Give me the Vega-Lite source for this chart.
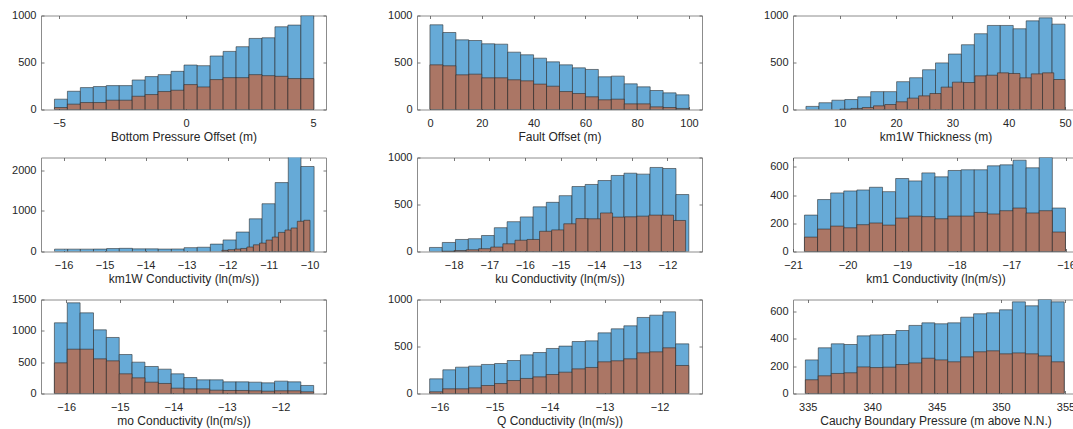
{
"$schema": "https://vega.github.io/schema/vega-lite/v6.json",
"padding": {"left": 11, "top": 8.5, "right": -4.5, "bottom": 0.5},
"locale": {"number": {"decimal": ".", "thousands": "", "grouping": [3], "currency": ["$", ""], "minus": "-"}},
"columns": 3,
"spacing": {"row": 48, "column": 91},
"bounds": "flush",
"config": {
 "font": "Liberation Sans",
 "numberFormat": "d",
 "view": {"stroke": "#8c8c8c", "strokeWidth": 1},
 "axis": {"domain": false, "grid": false, "ticks": true, "tickSize": -3, "tickColor": "#555555", "tickWidth": 0.8, "labelFont": "Liberation Sans", "labelFontSize": 11, "labelColor": "#262626", "titleFont": "Liberation Sans", "titleFontSize": 12, "titleFontWeight": "normal", "titleColor": "#262626", "labelOverlap": false, "labelFlush": false},
 "axisX": {"labelPadding": 11, "titlePadding": 3},
 "axisY": {"labelPadding": 8}
},
"datasets": {
 "p1": [
  {"s":"a","x":-5.18,"x2":-4.67,"y":110},{"s":"a","x":-4.67,"x2":-4.16,"y":194},{"s":"a","x":-4.16,"x2":-3.65,"y":233},{"s":"a","x":-3.65,"x2":-3.14,"y":244},{"s":"a","x":-3.14,"x2":-2.63,"y":254},{"s":"a","x":-2.63,"x2":-2.12,"y":254},{"s":"a","x":-2.12,"x2":-1.61,"y":314},{"s":"a","x":-1.61,"x2":-1.10,"y":350},{"s":"a","x":-1.10,"x2":-0.59,"y":371},{"s":"a","x":-0.59,"x2":-0.08,"y":406},{"s":"a","x":-0.08,"x2":0.44,"y":473},{"s":"a","x":0.44,"x2":0.95,"y":466},{"s":"a","x":0.95,"x2":1.46,"y":569},{"s":"a","x":1.46,"x2":1.97,"y":618},{"s":"a","x":1.97,"x2":2.48,"y":668},{"s":"a","x":2.48,"x2":2.99,"y":756},{"s":"a","x":2.99,"x2":3.50,"y":763},{"s":"a","x":3.50,"x2":4.01,"y":880},{"s":"a","x":4.01,"x2":4.52,"y":898},{"s":"a","x":4.52,"x2":5.03,"y":998},
  {"s":"b","x":-5.18,"x2":-4.67,"y":21},{"s":"b","x":-4.67,"x2":-4.16,"y":57},{"s":"b","x":-4.16,"x2":-3.65,"y":74},{"s":"b","x":-3.65,"x2":-3.14,"y":74},{"s":"b","x":-3.14,"x2":-2.63,"y":99},{"s":"b","x":-2.63,"x2":-2.12,"y":99},{"s":"b","x":-2.12,"x2":-1.61,"y":141},{"s":"b","x":-1.61,"x2":-1.10,"y":159},{"s":"b","x":-1.10,"x2":-0.59,"y":191},{"s":"b","x":-0.59,"x2":-0.08,"y":205},{"s":"b","x":-0.08,"x2":0.44,"y":265},{"s":"b","x":0.44,"x2":0.95,"y":240},{"s":"b","x":0.95,"x2":1.46,"y":318},{"s":"b","x":1.46,"x2":1.97,"y":339},{"s":"b","x":1.97,"x2":2.48,"y":339},{"s":"b","x":2.48,"x2":2.99,"y":371},{"s":"b","x":2.99,"x2":3.50,"y":360},{"s":"b","x":3.50,"x2":4.01,"y":353},{"s":"b","x":4.01,"x2":4.52,"y":329},{"s":"b","x":4.52,"x2":5.03,"y":329}
 ],
 "p2": [
  {"s":"a","x":0,"x2":5,"y":901},{"s":"a","x":5,"x2":10,"y":819},{"s":"a","x":10,"x2":15,"y":741},{"s":"a","x":15,"x2":20,"y":734},{"s":"a","x":20,"x2":25,"y":699},{"s":"a","x":25,"x2":30,"y":695},{"s":"a","x":30,"x2":35,"y":610},{"s":"a","x":35,"x2":40,"y":582},{"s":"a","x":40,"x2":45,"y":546},{"s":"a","x":45,"x2":50,"y":507},{"s":"a","x":50,"x2":55,"y":475},{"s":"a","x":55,"x2":60,"y":443},{"s":"a","x":60,"x2":65,"y":426},{"s":"a","x":65,"x2":70,"y":348},{"s":"a","x":70,"x2":75,"y":355},{"s":"a","x":75,"x2":80,"y":273},{"s":"a","x":80,"x2":85,"y":241},{"s":"a","x":85,"x2":90,"y":202},{"s":"a","x":90,"x2":95,"y":177},{"s":"a","x":95,"x2":100,"y":156},
  {"s":"b","x":0,"x2":5,"y":475},{"s":"b","x":5,"x2":10,"y":465},{"s":"b","x":10,"x2":15,"y":369},{"s":"b","x":15,"x2":20,"y":376},{"s":"b","x":20,"x2":25,"y":337},{"s":"b","x":25,"x2":30,"y":337},{"s":"b","x":30,"x2":35,"y":316},{"s":"b","x":35,"x2":40,"y":305},{"s":"b","x":40,"x2":45,"y":270},{"s":"b","x":45,"x2":50,"y":248},{"s":"b","x":50,"x2":55,"y":191},{"s":"b","x":55,"x2":60,"y":170},{"s":"b","x":60,"x2":65,"y":135},{"s":"b","x":65,"x2":70,"y":103},{"s":"b","x":70,"x2":75,"y":110},{"s":"b","x":75,"x2":80,"y":60},{"s":"b","x":80,"x2":85,"y":60},{"s":"b","x":85,"x2":90,"y":28},{"s":"b","x":90,"x2":95,"y":21},{"s":"b","x":95,"x2":100,"y":11}
 ],
 "p3": [
  {"s":"a","x":4.0,"x2":6.3,"y":33},{"s":"a","x":6.3,"x2":8.6,"y":72},{"s":"a","x":8.6,"x2":10.9,"y":99},{"s":"a","x":10.9,"x2":13.2,"y":106},{"s":"a","x":13.2,"x2":15.5,"y":135},{"s":"a","x":15.5,"x2":17.8,"y":190},{"s":"a","x":17.8,"x2":20.1,"y":190},{"s":"a","x":20.1,"x2":22.4,"y":296},{"s":"a","x":22.4,"x2":24.7,"y":338},{"s":"a","x":24.7,"x2":27.0,"y":423},{"s":"a","x":27.0,"x2":29.3,"y":496},{"s":"a","x":29.3,"x2":31.6,"y":590},{"s":"a","x":31.6,"x2":33.9,"y":689},{"s":"a","x":33.9,"x2":36.2,"y":806},{"s":"a","x":36.2,"x2":38.5,"y":894},{"s":"a","x":38.5,"x2":40.8,"y":894},{"s":"a","x":40.8,"x2":43.1,"y":859},{"s":"a","x":43.1,"x2":45.4,"y":943},{"s":"a","x":45.4,"x2":47.7,"y":975},{"s":"a","x":47.7,"x2":50.0,"y":908},
  {"s":"b","x":10,"x2":12,"y":4},{"s":"b","x":12,"x2":14,"y":11},{"s":"b","x":14,"x2":16,"y":21},{"s":"b","x":16,"x2":18,"y":39},{"s":"b","x":18,"x2":20,"y":53},{"s":"b","x":20,"x2":22,"y":82},{"s":"b","x":22,"x2":24,"y":121},{"s":"b","x":24,"x2":26,"y":145},{"s":"b","x":26,"x2":28,"y":170},{"s":"b","x":28,"x2":30,"y":238},{"s":"b","x":30,"x2":32,"y":291},{"s":"b","x":32,"x2":34,"y":287},{"s":"b","x":34,"x2":36,"y":358},{"s":"b","x":36,"x2":38,"y":365},{"s":"b","x":38,"x2":40,"y":390},{"s":"b","x":40,"x2":42,"y":383},{"s":"b","x":42,"x2":44,"y":337},{"s":"b","x":44,"x2":46,"y":379},{"s":"b","x":46,"x2":48,"y":390},{"s":"b","x":48,"x2":50,"y":319}
 ],
 "p4": [
  {"s":"a","x":-16.22,"x2":-15.90,"y":58},{"s":"a","x":-15.90,"x2":-15.59,"y":58},{"s":"a","x":-15.59,"x2":-15.27,"y":58},{"s":"a","x":-15.27,"x2":-14.95,"y":60},{"s":"a","x":-14.95,"x2":-14.64,"y":72},{"s":"a","x":-14.64,"x2":-14.32,"y":78},{"s":"a","x":-14.32,"x2":-14.00,"y":65},{"s":"a","x":-14.00,"x2":-13.69,"y":65},{"s":"a","x":-13.69,"x2":-13.37,"y":60},{"s":"a","x":-13.37,"x2":-13.06,"y":62},{"s":"a","x":-13.06,"x2":-12.74,"y":95},{"s":"a","x":-12.74,"x2":-12.42,"y":105},{"s":"a","x":-12.42,"x2":-12.11,"y":182},{"s":"a","x":-12.11,"x2":-11.79,"y":285},{"s":"a","x":-11.79,"x2":-11.47,"y":479},{"s":"a","x":-11.47,"x2":-11.16,"y":805},{"s":"a","x":-11.16,"x2":-10.84,"y":1176},{"s":"a","x":-10.84,"x2":-10.52,"y":1697},{"s":"a","x":-10.52,"x2":-10.21,"y":2350},{"s":"a","x":-10.21,"x2":-9.89,"y":2093},
  {"s":"b","x":-12.14,"x2":-11.99,"y":28},{"s":"b","x":-11.99,"x2":-11.83,"y":45},{"s":"b","x":-11.83,"x2":-11.68,"y":60},{"s":"b","x":-11.68,"x2":-11.53,"y":75},{"s":"b","x":-11.53,"x2":-11.37,"y":110},{"s":"b","x":-11.37,"x2":-11.22,"y":165},{"s":"b","x":-11.22,"x2":-11.06,"y":207},{"s":"b","x":-11.06,"x2":-10.91,"y":281},{"s":"b","x":-10.91,"x2":-10.76,"y":355},{"s":"b","x":-10.76,"x2":-10.60,"y":471},{"s":"b","x":-10.60,"x2":-10.45,"y":529},{"s":"b","x":-10.45,"x2":-10.30,"y":579},{"s":"b","x":-10.30,"x2":-10.14,"y":744},{"s":"b","x":-10.14,"x2":-9.99,"y":769}
 ],
 "p5": [
  {"s":"a","x":-18.68,"x2":-18.32,"y":43},{"s":"a","x":-18.32,"x2":-17.95,"y":96},{"s":"a","x":-17.95,"x2":-17.59,"y":128},{"s":"a","x":-17.59,"x2":-17.22,"y":136},{"s":"a","x":-17.22,"x2":-16.86,"y":170},{"s":"a","x":-16.86,"x2":-16.50,"y":253},{"s":"a","x":-16.50,"x2":-16.13,"y":317},{"s":"a","x":-16.13,"x2":-15.77,"y":368},{"s":"a","x":-15.77,"x2":-15.40,"y":475},{"s":"a","x":-15.40,"x2":-15.04,"y":523},{"s":"a","x":-15.04,"x2":-14.68,"y":594},{"s":"a","x":-14.68,"x2":-14.31,"y":691},{"s":"a","x":-14.31,"x2":-13.95,"y":713},{"s":"a","x":-13.95,"x2":-13.58,"y":755},{"s":"a","x":-13.58,"x2":-13.22,"y":809},{"s":"a","x":-13.22,"x2":-12.86,"y":833},{"s":"a","x":-12.86,"x2":-12.49,"y":823},{"s":"a","x":-12.49,"x2":-12.13,"y":894},{"s":"a","x":-12.13,"x2":-11.76,"y":883},{"s":"a","x":-11.76,"x2":-11.40,"y":606},
  {"s":"b","x":-18.33,"x2":-17.99,"y":3},{"s":"b","x":-17.99,"x2":-17.65,"y":10},{"s":"b","x":-17.65,"x2":-17.30,"y":18},{"s":"b","x":-17.30,"x2":-16.96,"y":30},{"s":"b","x":-16.96,"x2":-16.62,"y":47},{"s":"b","x":-16.62,"x2":-16.28,"y":82},{"s":"b","x":-16.28,"x2":-15.94,"y":120},{"s":"b","x":-15.94,"x2":-15.59,"y":128},{"s":"b","x":-15.59,"x2":-15.25,"y":215},{"s":"b","x":-15.25,"x2":-14.91,"y":230},{"s":"b","x":-14.91,"x2":-14.57,"y":295},{"s":"b","x":-14.57,"x2":-14.23,"y":350},{"s":"b","x":-14.23,"x2":-13.88,"y":348},{"s":"b","x":-13.88,"x2":-13.54,"y":410},{"s":"b","x":-13.54,"x2":-13.20,"y":366},{"s":"b","x":-13.20,"x2":-12.86,"y":369},{"s":"b","x":-12.86,"x2":-12.52,"y":376},{"s":"b","x":-12.52,"x2":-12.17,"y":387},{"s":"b","x":-12.17,"x2":-11.83,"y":387},{"s":"b","x":-11.83,"x2":-11.49,"y":330}
 ],
 "p6": [
  {"s":"a","x":-20.79,"x2":-20.55,"y":258},{"s":"a","x":-20.55,"x2":-20.31,"y":368},{"s":"a","x":-20.31,"x2":-20.07,"y":415},{"s":"a","x":-20.07,"x2":-19.83,"y":429},{"s":"a","x":-19.83,"x2":-19.60,"y":436},{"s":"a","x":-19.60,"x2":-19.36,"y":455},{"s":"a","x":-19.36,"x2":-19.12,"y":424},{"s":"a","x":-19.12,"x2":-18.88,"y":517},{"s":"a","x":-18.88,"x2":-18.64,"y":500},{"s":"a","x":-18.64,"x2":-18.40,"y":557},{"s":"a","x":-18.40,"x2":-18.16,"y":529},{"s":"a","x":-18.16,"x2":-17.92,"y":574},{"s":"a","x":-17.92,"x2":-17.68,"y":579},{"s":"a","x":-17.68,"x2":-17.44,"y":579},{"s":"a","x":-17.44,"x2":-17.21,"y":607},{"s":"a","x":-17.21,"x2":-16.97,"y":614},{"s":"a","x":-16.97,"x2":-16.73,"y":647},{"s":"a","x":-16.73,"x2":-16.49,"y":593},{"s":"a","x":-16.49,"x2":-16.25,"y":666},{"s":"a","x":-16.25,"x2":-16.01,"y":308},
  {"s":"b","x":-20.79,"x2":-20.55,"y":102},{"s":"b","x":-20.55,"x2":-20.31,"y":159},{"s":"b","x":-20.31,"x2":-20.07,"y":180},{"s":"b","x":-20.07,"x2":-19.83,"y":168},{"s":"b","x":-19.83,"x2":-19.60,"y":190},{"s":"b","x":-19.60,"x2":-19.36,"y":202},{"s":"b","x":-19.36,"x2":-19.12,"y":187},{"s":"b","x":-19.12,"x2":-18.88,"y":237},{"s":"b","x":-18.88,"x2":-18.64,"y":251},{"s":"b","x":-18.64,"x2":-18.40,"y":247},{"s":"b","x":-18.40,"x2":-18.16,"y":232},{"s":"b","x":-18.16,"x2":-17.92,"y":251},{"s":"b","x":-17.92,"x2":-17.68,"y":251},{"s":"b","x":-17.68,"x2":-17.44,"y":277},{"s":"b","x":-17.44,"x2":-17.21,"y":266},{"s":"b","x":-17.21,"x2":-16.97,"y":289},{"s":"b","x":-16.97,"x2":-16.73,"y":308},{"s":"b","x":-16.73,"x2":-16.49,"y":273},{"s":"b","x":-16.49,"x2":-16.25,"y":289},{"s":"b","x":-16.25,"x2":-16.01,"y":138}
 ],
 "p7": [
  {"s":"a","x":-16.22,"x2":-15.98,"y":1128},{"s":"a","x":-15.98,"x2":-15.74,"y":1447},{"s":"a","x":-15.74,"x2":-15.49,"y":1287},{"s":"a","x":-15.49,"x2":-15.25,"y":1016},{"s":"a","x":-15.25,"x2":-15.01,"y":894},{"s":"a","x":-15.01,"x2":-14.77,"y":622},{"s":"a","x":-14.77,"x2":-14.53,"y":500},{"s":"a","x":-14.53,"x2":-14.28,"y":431},{"s":"a","x":-14.28,"x2":-14.04,"y":388},{"s":"a","x":-14.04,"x2":-13.80,"y":314},{"s":"a","x":-13.80,"x2":-13.56,"y":255},{"s":"a","x":-13.56,"x2":-13.32,"y":218},{"s":"a","x":-13.32,"x2":-13.07,"y":218},{"s":"a","x":-13.07,"x2":-12.83,"y":186},{"s":"a","x":-12.83,"x2":-12.59,"y":186},{"s":"a","x":-12.59,"x2":-12.35,"y":181},{"s":"a","x":-12.35,"x2":-12.11,"y":170},{"s":"a","x":-12.11,"x2":-11.86,"y":197},{"s":"a","x":-11.86,"x2":-11.62,"y":186},{"s":"a","x":-11.62,"x2":-11.38,"y":128},
  {"s":"b","x":-16.22,"x2":-15.98,"y":489},{"s":"b","x":-15.98,"x2":-15.74,"y":707},{"s":"b","x":-15.74,"x2":-15.49,"y":707},{"s":"b","x":-15.49,"x2":-15.25,"y":553},{"s":"b","x":-15.25,"x2":-15.01,"y":521},{"s":"b","x":-15.01,"x2":-14.77,"y":314},{"s":"b","x":-14.77,"x2":-14.53,"y":250},{"s":"b","x":-14.53,"x2":-14.28,"y":181},{"s":"b","x":-14.28,"x2":-14.04,"y":160},{"s":"b","x":-14.04,"x2":-13.80,"y":85},{"s":"b","x":-13.80,"x2":-13.56,"y":74},{"s":"b","x":-13.56,"x2":-13.32,"y":74},{"s":"b","x":-13.32,"x2":-13.07,"y":53},{"s":"b","x":-13.07,"x2":-12.83,"y":48},{"s":"b","x":-12.83,"x2":-12.59,"y":48},{"s":"b","x":-12.59,"x2":-12.35,"y":43},{"s":"b","x":-12.35,"x2":-12.11,"y":37},{"s":"b","x":-12.11,"x2":-11.86,"y":43},{"s":"b","x":-11.86,"x2":-11.62,"y":43},{"s":"b","x":-11.62,"x2":-11.38,"y":27}
 ],
 "p8": [
  {"s":"a","x":-16.18,"x2":-15.94,"y":156},{"s":"a","x":-15.94,"x2":-15.71,"y":252},{"s":"a","x":-15.71,"x2":-15.47,"y":280},{"s":"a","x":-15.47,"x2":-15.24,"y":291},{"s":"a","x":-15.24,"x2":-15.00,"y":309},{"s":"a","x":-15.00,"x2":-14.77,"y":319},{"s":"a","x":-14.77,"x2":-14.53,"y":351},{"s":"a","x":-14.53,"x2":-14.30,"y":411},{"s":"a","x":-14.30,"x2":-14.06,"y":436},{"s":"a","x":-14.06,"x2":-13.83,"y":479},{"s":"a","x":-13.83,"x2":-13.59,"y":504},{"s":"a","x":-13.59,"x2":-13.35,"y":553},{"s":"a","x":-13.35,"x2":-13.12,"y":560},{"s":"a","x":-13.12,"x2":-12.88,"y":645},{"s":"a","x":-12.88,"x2":-12.65,"y":688},{"s":"a","x":-12.65,"x2":-12.41,"y":720},{"s":"a","x":-12.41,"x2":-12.18,"y":809},{"s":"a","x":-12.18,"x2":-11.94,"y":833},{"s":"a","x":-11.94,"x2":-11.71,"y":869},{"s":"a","x":-11.71,"x2":-11.47,"y":528},
  {"s":"b","x":-16.18,"x2":-15.94,"y":18},{"s":"b","x":-15.94,"x2":-15.71,"y":50},{"s":"b","x":-15.71,"x2":-15.47,"y":50},{"s":"b","x":-15.47,"x2":-15.24,"y":60},{"s":"b","x":-15.24,"x2":-15.00,"y":85},{"s":"b","x":-15.00,"x2":-14.77,"y":106},{"s":"b","x":-14.77,"x2":-14.53,"y":138},{"s":"b","x":-14.53,"x2":-14.30,"y":160},{"s":"b","x":-14.30,"x2":-14.06,"y":177},{"s":"b","x":-14.06,"x2":-13.83,"y":202},{"s":"b","x":-13.83,"x2":-13.59,"y":227},{"s":"b","x":-13.59,"x2":-13.35,"y":262},{"s":"b","x":-13.35,"x2":-13.12,"y":277},{"s":"b","x":-13.12,"x2":-12.88,"y":337},{"s":"b","x":-12.88,"x2":-12.65,"y":348},{"s":"b","x":-12.65,"x2":-12.41,"y":369},{"s":"b","x":-12.41,"x2":-12.18,"y":433},{"s":"b","x":-12.18,"x2":-11.94,"y":443},{"s":"b","x":-11.94,"x2":-11.71,"y":486},{"s":"b","x":-11.71,"x2":-11.47,"y":298}
 ],
 "p9": [
  {"s":"a","x":334.82,"x2":335.82,"y":245},{"s":"a","x":335.82,"x2":336.83,"y":333},{"s":"a","x":336.83,"x2":337.83,"y":362},{"s":"a","x":337.83,"x2":338.84,"y":357},{"s":"a","x":338.84,"x2":339.84,"y":420},{"s":"a","x":339.84,"x2":340.84,"y":427},{"s":"a","x":340.84,"x2":341.85,"y":430},{"s":"a","x":341.85,"x2":342.85,"y":459},{"s":"a","x":342.85,"x2":343.86,"y":496},{"s":"a","x":343.86,"x2":344.86,"y":515},{"s":"a","x":344.86,"x2":345.86,"y":508},{"s":"a","x":345.86,"x2":346.87,"y":515},{"s":"a","x":346.87,"x2":347.87,"y":556},{"s":"a","x":347.87,"x2":348.88,"y":581},{"s":"a","x":348.88,"x2":349.88,"y":588},{"s":"a","x":349.88,"x2":350.88,"y":610},{"s":"a","x":350.88,"x2":351.89,"y":668},{"s":"a","x":351.89,"x2":352.89,"y":639},{"s":"a","x":352.89,"x2":353.90,"y":685},{"s":"a","x":353.90,"x2":354.90,"y":668},
  {"s":"b","x":334.82,"x2":335.82,"y":100},{"s":"b","x":335.82,"x2":336.83,"y":129},{"s":"b","x":336.83,"x2":337.83,"y":146},{"s":"b","x":337.83,"x2":338.84,"y":151},{"s":"b","x":338.84,"x2":339.84,"y":194},{"s":"b","x":339.84,"x2":340.84,"y":189},{"s":"b","x":340.84,"x2":341.85,"y":192},{"s":"b","x":341.85,"x2":342.85,"y":211},{"s":"b","x":342.85,"x2":343.86,"y":223},{"s":"b","x":343.86,"x2":344.86,"y":257},{"s":"b","x":344.86,"x2":345.86,"y":245},{"s":"b","x":345.86,"x2":346.87,"y":231},{"s":"b","x":346.87,"x2":347.87,"y":267},{"s":"b","x":347.87,"x2":348.88,"y":304},{"s":"b","x":348.88,"x2":349.88,"y":311},{"s":"b","x":349.88,"x2":350.88,"y":289},{"s":"b","x":350.88,"x2":351.89,"y":296},{"s":"b","x":351.89,"x2":352.89,"y":289},{"s":"b","x":352.89,"x2":353.90,"y":274},{"s":"b","x":353.90,"x2":354.90,"y":231}
 ]
},
"concat": [
 {"width": 285, "height": 94, "data": {"name": "p1"},
  "layer": [
   {"mark": {"type": "rect", "clip": true, "stroke": "#262626", "strokeWidth": 0.7, "strokeOpacity": 0.8},
    "encoding": {
     "x": {"field": "x", "type": "quantitative", "scale": {"domain": [-5.71, 5.51], "nice": false, "zero": false}, "axis": {"values": [-5, 0, 5], "title": "Bottom Pressure Offset (m)"}},
     "x2": {"field": "x2"},
     "y": {"field": "y", "type": "quantitative", "stack": null, "scale": {"domain": [0, 1000], "nice": false, "zero": false}, "axis": {"values": [0, 500, 1000], "title": null}},
     "y2": {"datum": 0},
     "color": {"field": "s", "type": "nominal", "scale": {"domain": ["a", "b"], "range": ["#66AAD7", "#AB7665"]}, "legend": null}}},
   {"mark": {"type": "point", "opacity": 0, "clip": true},
    "encoding": {
     "x": {"field": "x", "type": "quantitative", "scale": {"domain": [-5.71, 5.51], "nice": false, "zero": false}, "axis": {"orient": "top", "values": [-5, 0, 5], "labels": false, "title": null}},
     "y": {"field": "y", "type": "quantitative", "scale": {"domain": [0, 1000], "nice": false, "zero": false}, "axis": {"orient": "right", "values": [0, 500, 1000], "labels": false, "title": null}}}}
  ],
  "resolve": {"axis": {"x": "independent", "y": "independent"}}},
 {"width": 285, "height": 94, "data": {"name": "p2"},
  "layer": [
   {"mark": {"type": "rect", "clip": true, "stroke": "#262626", "strokeWidth": 0.7, "strokeOpacity": 0.8},
    "encoding": {
     "x": {"field": "x", "type": "quantitative", "scale": {"domain": [-5, 105], "nice": false, "zero": false}, "axis": {"values": [0, 20, 40, 60, 80, 100], "title": "Fault Offset (m)"}},
     "x2": {"field": "x2"},
     "y": {"field": "y", "type": "quantitative", "stack": null, "scale": {"domain": [0, 1000], "nice": false, "zero": false}, "axis": {"values": [0, 500, 1000], "title": null}},
     "y2": {"datum": 0},
     "color": {"field": "s", "type": "nominal", "scale": {"domain": ["a", "b"], "range": ["#66AAD7", "#AB7665"]}, "legend": null}}},
   {"mark": {"type": "point", "opacity": 0, "clip": true},
    "encoding": {
     "x": {"field": "x", "type": "quantitative", "scale": {"domain": [-5, 105], "nice": false, "zero": false}, "axis": {"orient": "top", "values": [0, 20, 40, 60, 80, 100], "labels": false, "title": null}},
     "y": {"field": "y", "type": "quantitative", "scale": {"domain": [0, 1000], "nice": false, "zero": false}, "axis": {"orient": "right", "values": [0, 500, 1000], "labels": false, "title": null}}}}
  ],
  "resolve": {"axis": {"x": "independent", "y": "independent"}}},
 {"width": 285, "height": 94, "data": {"name": "p3"},
  "layer": [
   {"mark": {"type": "rect", "clip": true, "stroke": "#262626", "strokeWidth": 0.7, "strokeOpacity": 0.8},
    "encoding": {
     "x": {"field": "x", "type": "quantitative", "scale": {"domain": [1.7, 52.3], "nice": false, "zero": false}, "axis": {"values": [10, 20, 30, 40, 50], "title": "km1W Thickness (m)"}},
     "x2": {"field": "x2"},
     "y": {"field": "y", "type": "quantitative", "stack": null, "scale": {"domain": [0, 1000], "nice": false, "zero": false}, "axis": {"values": [0, 500, 1000], "title": null}},
     "y2": {"datum": 0},
     "color": {"field": "s", "type": "nominal", "scale": {"domain": ["a", "b"], "range": ["#66AAD7", "#AB7665"]}, "legend": null}}},
   {"mark": {"type": "point", "opacity": 0, "clip": true},
    "encoding": {
     "x": {"field": "x", "type": "quantitative", "scale": {"domain": [1.7, 52.3], "nice": false, "zero": false}, "axis": {"orient": "top", "values": [10, 20, 30, 40, 50], "labels": false, "title": null}},
     "y": {"field": "y", "type": "quantitative", "scale": {"domain": [0, 1000], "nice": false, "zero": false}, "axis": {"orient": "right", "values": [0, 500, 1000], "labels": false, "title": null}}}}
  ],
  "resolve": {"axis": {"x": "independent", "y": "independent"}}},
 {"width": 285, "height": 94, "data": {"name": "p4"},
  "layer": [
   {"mark": {"type": "rect", "clip": true, "stroke": "#262626", "strokeWidth": 0.7, "strokeOpacity": 0.8},
    "encoding": {
     "x": {"field": "x", "type": "quantitative", "scale": {"domain": [-16.55, -9.6], "nice": false, "zero": false}, "axis": {"values": [-16, -15, -14, -13, -12, -11, -10], "title": "km1W Conductivity (ln(m/s))"}},
     "x2": {"field": "x2"},
     "y": {"field": "y", "type": "quantitative", "stack": null, "scale": {"domain": [0, 2315], "nice": false, "zero": false}, "axis": {"values": [0, 1000, 2000], "title": null}},
     "y2": {"datum": 0},
     "color": {"field": "s", "type": "nominal", "scale": {"domain": ["a", "b"], "range": ["#66AAD7", "#AB7665"]}, "legend": null}}},
   {"mark": {"type": "point", "opacity": 0, "clip": true},
    "encoding": {
     "x": {"field": "x", "type": "quantitative", "scale": {"domain": [-16.55, -9.6], "nice": false, "zero": false}, "axis": {"orient": "top", "values": [-16, -15, -14, -13, -12, -11, -10], "labels": false, "title": null}},
     "y": {"field": "y", "type": "quantitative", "scale": {"domain": [0, 2315], "nice": false, "zero": false}, "axis": {"orient": "right", "values": [0, 1000, 2000], "labels": false, "title": null}}}}
  ],
  "resolve": {"axis": {"x": "independent", "y": "independent"}}},
 {"width": 285, "height": 94, "data": {"name": "p5"},
  "layer": [
   {"mark": {"type": "rect", "clip": true, "stroke": "#262626", "strokeWidth": 0.7, "strokeOpacity": 0.8},
    "encoding": {
     "x": {"field": "x", "type": "quantitative", "scale": {"domain": [-19.03, -11.03], "nice": false, "zero": false}, "axis": {"values": [-18, -17, -16, -15, -14, -13, -12], "title": "ku Conductivity (ln(m/s))"}},
     "x2": {"field": "x2"},
     "y": {"field": "y", "type": "quantitative", "stack": null, "scale": {"domain": [0, 1000], "nice": false, "zero": false}, "axis": {"values": [0, 500, 1000], "title": null}},
     "y2": {"datum": 0},
     "color": {"field": "s", "type": "nominal", "scale": {"domain": ["a", "b"], "range": ["#66AAD7", "#AB7665"]}, "legend": null}}},
   {"mark": {"type": "point", "opacity": 0, "clip": true},
    "encoding": {
     "x": {"field": "x", "type": "quantitative", "scale": {"domain": [-19.03, -11.03], "nice": false, "zero": false}, "axis": {"orient": "top", "values": [-18, -17, -16, -15, -14, -13, -12], "labels": false, "title": null}},
     "y": {"field": "y", "type": "quantitative", "scale": {"domain": [0, 1000], "nice": false, "zero": false}, "axis": {"orient": "right", "values": [0, 500, 1000], "labels": false, "title": null}}}}
  ],
  "resolve": {"axis": {"x": "independent", "y": "independent"}}},
 {"width": 285, "height": 94, "data": {"name": "p6"},
  "layer": [
   {"mark": {"type": "rect", "clip": true, "stroke": "#262626", "strokeWidth": 0.7, "strokeOpacity": 0.8},
    "encoding": {
     "x": {"field": "x", "type": "quantitative", "scale": {"domain": [-21, -15.78], "nice": false, "zero": false}, "axis": {"values": [-21, -20, -19, -18, -17, -16], "title": "km1 Conductivity (ln(m/s))"}},
     "x2": {"field": "x2"},
     "y": {"field": "y", "type": "quantitative", "stack": null, "scale": {"domain": [0, 666], "nice": false, "zero": false}, "axis": {"values": [0, 200, 400, 600], "title": null}},
     "y2": {"datum": 0},
     "color": {"field": "s", "type": "nominal", "scale": {"domain": ["a", "b"], "range": ["#66AAD7", "#AB7665"]}, "legend": null}}},
   {"mark": {"type": "point", "opacity": 0, "clip": true},
    "encoding": {
     "x": {"field": "x", "type": "quantitative", "scale": {"domain": [-21, -15.78], "nice": false, "zero": false}, "axis": {"orient": "top", "values": [-21, -20, -19, -18, -17, -16], "labels": false, "title": null}},
     "y": {"field": "y", "type": "quantitative", "scale": {"domain": [0, 666], "nice": false, "zero": false}, "axis": {"orient": "right", "values": [0, 200, 400, 600], "labels": false, "title": null}}}}
  ],
  "resolve": {"axis": {"x": "independent", "y": "independent"}}},
 {"width": 285, "height": 94, "data": {"name": "p7"},
  "layer": [
   {"mark": {"type": "rect", "clip": true, "stroke": "#262626", "strokeWidth": 0.7, "strokeOpacity": 0.8},
    "encoding": {
     "x": {"field": "x", "type": "quantitative", "scale": {"domain": [-16.47, -11.15], "nice": false, "zero": false}, "axis": {"values": [-16, -15, -14, -13, -12], "title": "mo Conductivity (ln(m/s))"}},
     "x2": {"field": "x2"},
     "y": {"field": "y", "type": "quantitative", "stack": null, "scale": {"domain": [0, 1500], "nice": false, "zero": false}, "axis": {"values": [0, 500, 1000, 1500], "title": null}},
     "y2": {"datum": 0},
     "color": {"field": "s", "type": "nominal", "scale": {"domain": ["a", "b"], "range": ["#66AAD7", "#AB7665"]}, "legend": null}}},
   {"mark": {"type": "point", "opacity": 0, "clip": true},
    "encoding": {
     "x": {"field": "x", "type": "quantitative", "scale": {"domain": [-16.47, -11.15], "nice": false, "zero": false}, "axis": {"orient": "top", "values": [-16, -15, -14, -13, -12], "labels": false, "title": null}},
     "y": {"field": "y", "type": "quantitative", "scale": {"domain": [0, 1500], "nice": false, "zero": false}, "axis": {"orient": "right", "values": [0, 500, 1000, 1500], "labels": false, "title": null}}}}
  ],
  "resolve": {"axis": {"x": "independent", "y": "independent"}}},
 {"width": 285, "height": 94, "data": {"name": "p8"},
  "layer": [
   {"mark": {"type": "rect", "clip": true, "stroke": "#262626", "strokeWidth": 0.7, "strokeOpacity": 0.8},
    "encoding": {
     "x": {"field": "x", "type": "quantitative", "scale": {"domain": [-16.41, -11.23], "nice": false, "zero": false}, "axis": {"values": [-16, -15, -14, -13, -12], "title": "Q Conductivity (ln(m/s))"}},
     "x2": {"field": "x2"},
     "y": {"field": "y", "type": "quantitative", "stack": null, "scale": {"domain": [0, 1000], "nice": false, "zero": false}, "axis": {"values": [0, 500, 1000], "title": null}},
     "y2": {"datum": 0},
     "color": {"field": "s", "type": "nominal", "scale": {"domain": ["a", "b"], "range": ["#66AAD7", "#AB7665"]}, "legend": null}}},
   {"mark": {"type": "point", "opacity": 0, "clip": true},
    "encoding": {
     "x": {"field": "x", "type": "quantitative", "scale": {"domain": [-16.41, -11.23], "nice": false, "zero": false}, "axis": {"orient": "top", "values": [-16, -15, -14, -13, -12], "labels": false, "title": null}},
     "y": {"field": "y", "type": "quantitative", "scale": {"domain": [0, 1000], "nice": false, "zero": false}, "axis": {"orient": "right", "values": [0, 500, 1000], "labels": false, "title": null}}}}
  ],
  "resolve": {"axis": {"x": "independent", "y": "independent"}}},
 {"width": 285, "height": 94, "data": {"name": "p9"},
  "layer": [
   {"mark": {"type": "rect", "clip": true, "stroke": "#262626", "strokeWidth": 0.7, "strokeOpacity": 0.8},
    "encoding": {
     "x": {"field": "x", "type": "quantitative", "scale": {"domain": [333.86, 355.97], "nice": false, "zero": false}, "axis": {"values": [335, 340, 345, 350, 355], "title": "Cauchy Boundary Pressure (m above N.N.)"}},
     "x2": {"field": "x2"},
     "y": {"field": "y", "type": "quantitative", "stack": null, "scale": {"domain": [0, 685], "nice": false, "zero": false}, "axis": {"values": [0, 200, 400, 600], "title": null}},
     "y2": {"datum": 0},
     "color": {"field": "s", "type": "nominal", "scale": {"domain": ["a", "b"], "range": ["#66AAD7", "#AB7665"]}, "legend": null}}},
   {"mark": {"type": "point", "opacity": 0, "clip": true},
    "encoding": {
     "x": {"field": "x", "type": "quantitative", "scale": {"domain": [333.86, 355.97], "nice": false, "zero": false}, "axis": {"orient": "top", "values": [335, 340, 345, 350, 355], "labels": false, "title": null}},
     "y": {"field": "y", "type": "quantitative", "scale": {"domain": [0, 685], "nice": false, "zero": false}, "axis": {"orient": "right", "values": [0, 200, 400, 600], "labels": false, "title": null}}}}
  ],
  "resolve": {"axis": {"x": "independent", "y": "independent"}}}
]
}
